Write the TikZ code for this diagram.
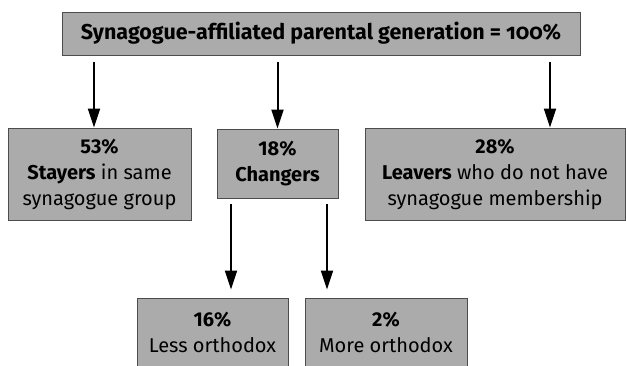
\documentclass[tikz,border=0pt]{standalone}
\usepackage{fontspec}
\setmainfont{Fira Sans}
\usetikzlibrary{arrows.meta}
\tikzset{
  box/.style={draw=black!70, fill=black!33, line width=0.8pt, align=center,
    inner sep=0pt, font=\fontsize{20}{26}\selectfont},
  arr/.style={line width=2pt, -{Triangle[length=19pt,width=12pt]}}
}
\begin{document}
\begin{tikzpicture}[x=1pt,y=-1pt]
		%%%%% START %%%%%
		\useasboundingbox (0,0) rectangle (626,365);
		
		\node[box, minimum width=518pt, minimum height=43pt, font=\fontsize{21.5}{24}\selectfont\bfseries\addfontfeatures{Numbers=OldStyle}]
			(top) at (321, 33.5) {Synagogue-affiliated parental generation = 100\%};
		
		\node[box, minimum width=183pt, minimum height=92pt] (stay) at (99.5, 174)
			{\textbf{53\%}\\\textbf{Stayers} in same\\synagogue group};
		\node[box, minimum width=121pt, minimum height=69pt] (chg) at (277.5, 163.5)
			{\textbf{18\%}\\\textbf{Changers}};
		\node[box, minimum width=260pt, minimum height=92pt] (leave) at (495, 174)
			{\textbf{28\%}\\\textbf{Leavers} who do not have\\synagogue membership};
		
		\node[box, minimum width=151pt, minimum height=69pt] (less) at (212.5, 332.5)
			{\textbf{16\%}\\Less orthodox};
		\node[box, minimum width=162pt, minimum height=69pt] (more) at (386, 332.5)
			{\textbf{2\%}\\More orthodox};
		
		\draw[arr] ([yshift=-7pt]top.south -| 94,0) -- (stay.north -| 94,0);
		\draw[arr] ([yshift=-7pt]top.south -| chg.north) -- (chg.north);
		\draw[arr] ([yshift=-7pt]top.south -| 550,0) -- (leave.north -| 550,0);
		
		\draw[arr] ([yshift=-6pt]chg.south -| 231,0) -- ([yshift=8pt]less.north -| 231,0);
		\draw[arr] ([yshift=-6pt]chg.south -| 327,0) -- ([yshift=8pt]more.north -| 327,0);
		%%%%% END %%%%%
\end{tikzpicture}
\end{document}
